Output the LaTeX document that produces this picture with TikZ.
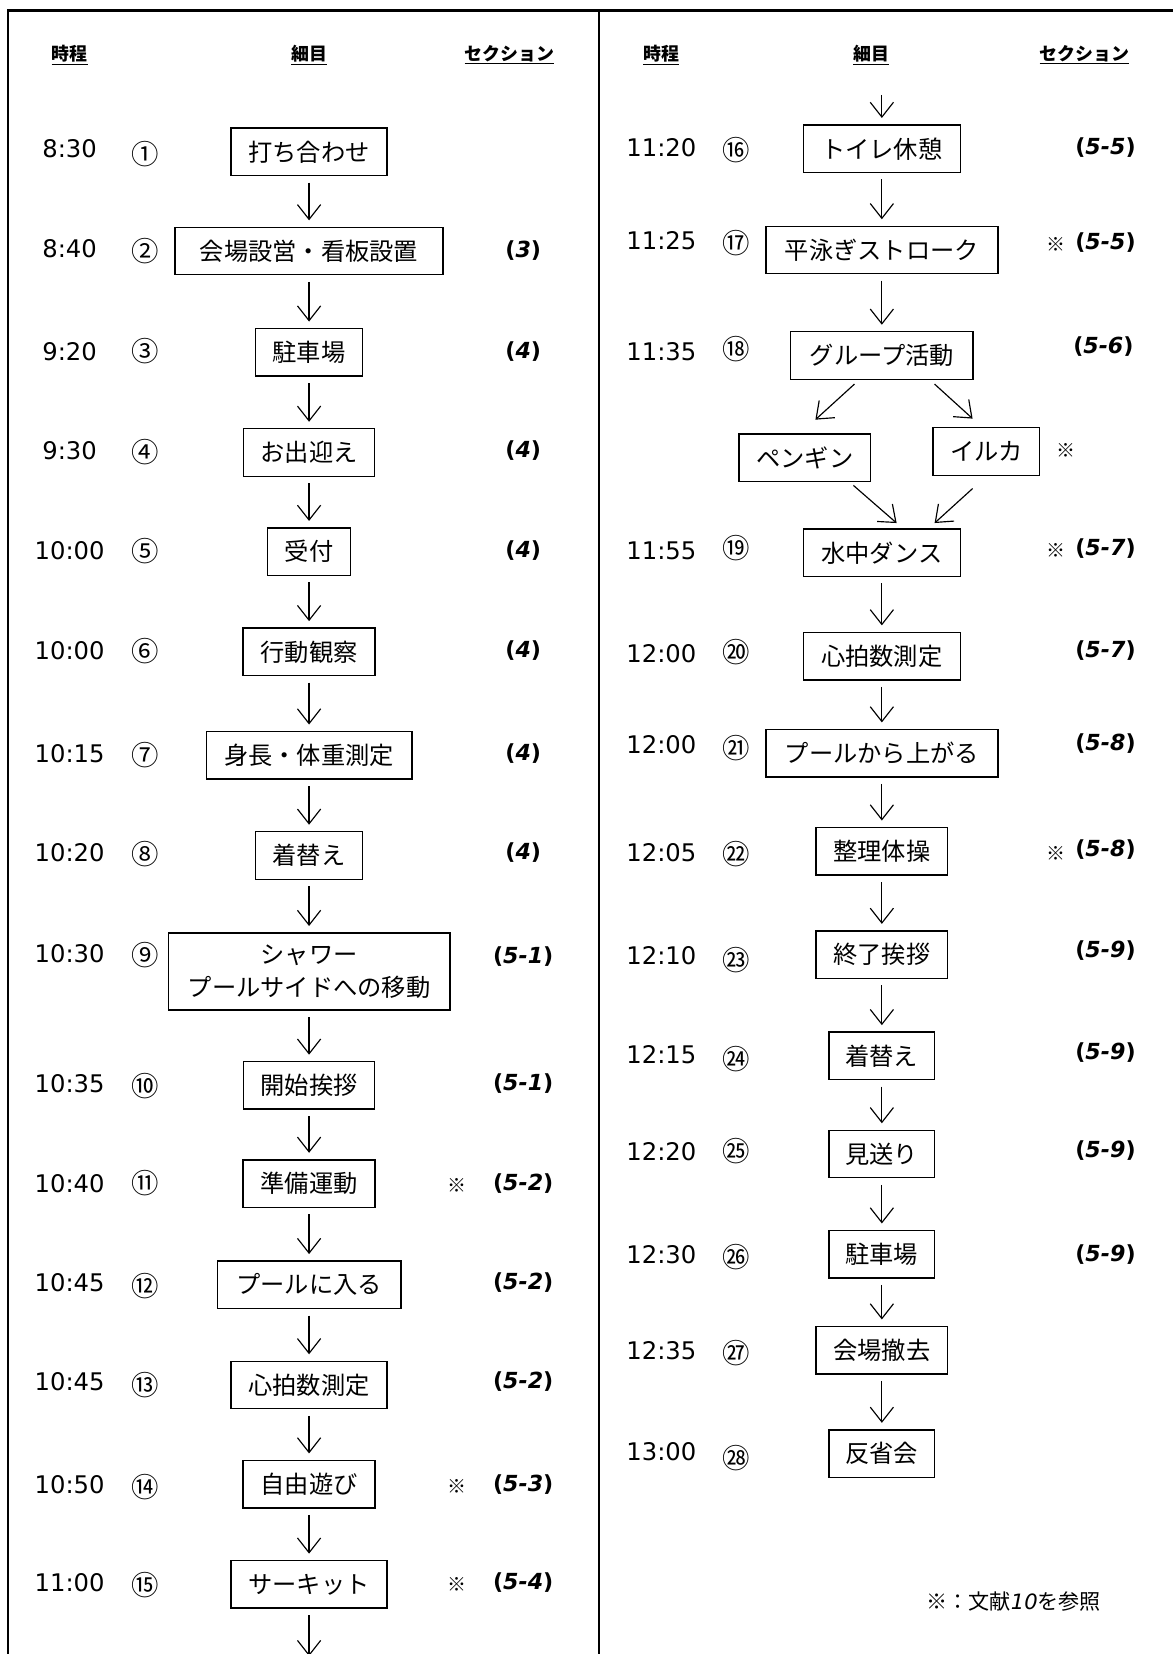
\documentclass[tikz,border=0pt]{standalone}
\usepackage{fontspec}
\setmainfont{DejaVu Sans}
\newfontfamily\jp{Noto Sans CJK JP}
\usetikzlibrary{arrows.meta}

\newcommand{\seclab}[1]{(\textit{#1})}

\tikzset{
  stepbox/.style={draw, line width=1.3pt, minimum height=45pt, inner xsep=6pt, font=\jp\fontsize{23}{31}\selectfont},
  clock/.style={font=\fontsize{23}{27}\selectfont},
  num/.style={font=\jp\fontsize{26}{30}\selectfont},
  seccol/.style={font=\bfseries\fontsize{21}{25}\selectfont},
  kome/.style={font=\jp\fontsize{18}{21}\selectfont},
  colhead/.style={font=\jp\bfseries\fontsize{17}{20}\selectfont},
  flowarrow/.style={-{Straight Barb[length=14pt,width=22pt]}, line width=1.1pt, shorten <=6pt, shorten >=6pt},
  brancharrow/.style={-{Straight Barb[length=14pt,width=22pt]}, line width=1.1pt}
}

\begin{document}
\begin{tikzpicture}[x=1pt, y=-1pt]

% Page and frame
\fill[white] (0,0) rectangle (1112,1568);
\useasboundingbox (0,0) rectangle (1112,1568);
\draw[line width=2pt] (8,1568) -- (8,10) -- (1112,10);
\draw[line width=2pt] (568,10) -- (568,1568);

% Column heads
\node[colhead] (h1) at (66,52) {\underline{時程}};
\node[colhead] (h2) at (293,52) {\underline{細目}};
\node[colhead] (h3) at (483,52) {\underline{セクション}};
\node[colhead] (h4) at (627,52) {\underline{時程}};
\node[colhead] (h5) at (826,52) {\underline{細目}};
\node[colhead] (h6) at (1028,52) {\underline{セクション}};

% Left column
\node[clock] (t1) at (66,141) {8:30};
\node[num] (n1) at (138,146) {①};
\node[stepbox, minimum width=148pt] (b1) at (293,144) {打ち合わせ};

\node[clock] (t2) at (66,236) {8:40};
\node[num] (n2) at (138,238) {②};
\node[stepbox, minimum width=254pt] (b2) at (293,238) {会場設営・看板設置};
\node[seccol] (s2) at (496,238) {\seclab{3}};

\node[clock] (t3) at (66,333) {9:20};
\node[num] (n3) at (138,333) {③};
\node[stepbox, minimum width=101pt] (b3) at (293,334) {駐車場};
\node[seccol] (s3) at (496,333) {\seclab{4}};

\node[clock] (t4) at (66,427) {9:30};
\node[num] (n4) at (138,429) {④};
\node[stepbox, minimum width=124pt] (b4) at (293,429) {お出迎え};
\node[seccol] (s4) at (496,427) {\seclab{4}};

\node[clock] (t5) at (66,522) {10:00};
\node[num] (n5) at (138,522) {⑤};
\node[stepbox, minimum width=79pt] (b5) at (293,523) {受付};
\node[seccol] (s5) at (496,522) {\seclab{4}};

\node[clock] (t6) at (66,617) {10:00};
\node[num] (n6) at (138,617) {⑥};
\node[stepbox, minimum width=125pt] (b6) at (293,618) {行動観察};
\node[seccol] (s6) at (496,617) {\seclab{4}};

\node[clock] (t7) at (66,714) {10:15};
\node[num] (n7) at (138,716) {⑦};
\node[stepbox, minimum width=195pt] (b7) at (293,716) {身長・体重測定};
\node[seccol] (s7) at (496,714) {\seclab{4}};

\node[clock] (t8) at (66,808) {10:20};
\node[num] (n8) at (138,810) {⑧};
\node[stepbox, minimum width=101pt] (b8) at (293,811) {着替え};
\node[seccol] (s8) at (496,808) {\seclab{4}};

\node[clock] (t9) at (66,904) {10:30};
\node[num] (n9) at (138,905) {⑨};
\node[stepbox, minimum width=267pt, minimum height=73pt, align=center] (b9) at (293,921) {シャワー\\プールサイドへの移動};
\node[seccol] (s9) at (496,907) {\seclab{5-1}};

\node[clock] (t10) at (66,1027) {10:35};
\node[num] (n10) at (138,1030) {⑩};
\node[stepbox, minimum width=124pt] (b10) at (293,1029) {開始挨拶};
\node[seccol] (s10) at (496,1027) {\seclab{5-1}};

\node[clock] (t11) at (66,1122) {10:40};
\node[num] (n11) at (138,1122) {⑪};
\node[stepbox, minimum width=125pt] (b11) at (293,1122) {準備運動};
\node[kome] (k11) at (433,1124) {※};
\node[seccol] (s11) at (496,1122) {\seclab{5-2}};

\node[clock] (t12) at (66,1216) {10:45};
\node[num] (n12) at (138,1219) {⑫};
\node[stepbox, minimum width=174pt] (b12) at (293,1218) {プールに入る};
\node[seccol] (s12) at (496,1216) {\seclab{5-2}};

\node[clock] (t13) at (66,1310) {10:45};
\node[num] (n13) at (138,1313) {⑬};
\node[stepbox, minimum width=148pt] (b13) at (293,1313) {心拍数測定};
\node[seccol] (s13) at (496,1310) {\seclab{5-2}};

\node[clock] (t14) at (66,1407) {10:50};
\node[num] (n14) at (138,1410) {⑭};
\node[stepbox, minimum width=125pt] (b14) at (293,1407) {自由遊び};
\node[kome] (k14) at (433,1409) {※};
\node[seccol] (s14) at (496,1407) {\seclab{5-3}};

\node[clock] (t15) at (66,1500) {11:00};
\node[num] (n15) at (138,1503) {⑮};
\node[stepbox, minimum width=148pt] (b15) at (293,1502) {サーキット};
\node[kome] (k15) at (433,1502) {※};
\node[seccol] (s15) at (496,1500) {\seclab{5-4}};

\coordinate (lbot) at (293,1570);

% Right column
\coordinate (rtop) at (836,84);

\node[clock] (t16) at (627,140) {11:20};
\node[num] (n16) at (698,142) {⑯};
\node[stepbox, minimum width=149pt] (b16) at (836,141) {トイレ休憩};
\node[seccol] (s16) at (1048,140) {\seclab{5-5}};

\node[clock] (t17) at (627,228) {11:25};
\node[num] (n17) at (698,230) {⑰};
\node[stepbox, minimum width=220pt] (b17) at (836,237) {平泳ぎストローク};
\node[kome] (k17) at (1001,232) {※};
\node[seccol] (s17) at (1048,230) {\seclab{5-5}};

\node[clock] (t18) at (627,333) {11:35};
\node[num] (n18) at (698,331) {⑱};
\node[stepbox, minimum width=173pt] (b18) at (836,337) {グループ活動};
\node[seccol] (s18) at (1046,329) {\seclab{5-6}};

\node[stepbox, minimum width=125pt] (pen) at (763,434) {ペンギン};
\node[stepbox, minimum width=101pt] (iru) at (935,428) {イルカ};
\node[kome] (kiru) at (1011,427) {※};

\node[clock] (t19) at (627,522) {11:55};
\node[num] (n19) at (698,520) {⑲};
\node[stepbox, minimum width=149pt] (b19) at (836,524) {水中ダンス};
\node[kome] (k19) at (1001,522) {※};
\node[seccol] (s19) at (1048,520) {\seclab{5-7}};

\node[clock] (t20) at (627,620) {12:00};
\node[num] (n20) at (698,618) {⑳};
\node[stepbox, minimum width=149pt] (b20) at (836,622) {心拍数測定};
\node[seccol] (s20) at (1048,617) {\seclab{5-7}};

\node[clock] (t21) at (627,706) {12:00};
\node[num] (n21) at (698,709) {㉑};
\node[stepbox, minimum width=220pt] (b21) at (836,714) {プールから上がる};
\node[seccol] (s21) at (1048,705) {\seclab{5-8}};

\node[clock] (t22) at (627,808) {12:05};
\node[num] (n22) at (698,810) {㉒};
\node[stepbox, minimum width=125pt] (b22) at (836,807) {整理体操};
\node[kome] (k22) at (1001,809) {※};
\node[seccol] (s22) at (1048,805) {\seclab{5-8}};

\node[clock] (t23) at (627,906) {12:10};
\node[num] (n23) at (698,910) {㉓};
\node[stepbox, minimum width=125pt] (b23) at (836,905) {終了挨拶};
\node[seccol] (s23) at (1048,901) {\seclab{5-9}};

\node[clock] (t24) at (627,1000) {12:15};
\node[num] (n24) at (698,1004) {㉔};
\node[stepbox, minimum width=100pt] (b24) at (836,1001) {着替え};
\node[seccol] (s24) at (1048,998) {\seclab{5-9}};

\node[clock] (t25) at (627,1092) {12:20};
\node[num] (n25) at (698,1091) {㉕};
\node[stepbox, minimum width=100pt] (b25) at (836,1094) {見送り};
\node[seccol] (s25) at (1048,1091) {\seclab{5-9}};

\node[clock] (t26) at (627,1189) {12:30};
\node[num] (n26) at (698,1192) {㉖};
\node[stepbox, minimum width=100pt] (b26) at (836,1189) {駐車場};
\node[seccol] (s26) at (1048,1189) {\seclab{5-9}};

\node[clock] (t27) at (627,1280) {12:35};
\node[num] (n27) at (698,1283) {㉗};
\node[stepbox, minimum width=125pt] (b27) at (836,1280) {会場撤去};

\node[clock] (t28) at (627,1376) {13:00};
\node[num] (n28) at (698,1382) {㉘};
\node[stepbox, minimum width=100pt] (b28) at (836,1378) {反省会};

% Note
\node[font=\jp\fontsize{20}{24}\selectfont] (note) at (961,1518) {※：文献{\normalfont\itshape 10}を参照};

% Arrows, left column
\draw[flowarrow] (b1) -- (b2);
\draw[flowarrow] (b2) -- (b3);
\draw[flowarrow] (b3) -- (b4);
\draw[flowarrow] (b4) -- (b5);
\draw[flowarrow] (b5) -- (b6);
\draw[flowarrow] (b6) -- (b7);
\draw[flowarrow] (b7) -- (b8);
\draw[flowarrow] (b8) -- (b9);
\draw[flowarrow] (b9) -- (b10);
\draw[flowarrow] (b10) -- (b11);
\draw[flowarrow] (b11) -- (b12);
\draw[flowarrow] (b12) -- (b13);
\draw[flowarrow] (b13) -- (b14);
\draw[flowarrow] (b14) -- (b15);
\draw[flowarrow, shorten >=0pt] (b15) -- (lbot);

% Arrows, right column
\draw[flowarrow] (rtop) -- (b16);
\draw[flowarrow] (b16) -- (b17);
\draw[flowarrow] (b17) -- (b18);
\draw[brancharrow] ([xshift=-26pt,yshift=-4pt]b18.south) -- ([xshift=10pt,yshift=13pt]pen.north);
\draw[brancharrow] ([xshift=50pt,yshift=-4pt]b18.south) -- ([xshift=-13pt,yshift=8pt]iru.north);
\draw[brancharrow] ([xshift=46pt,yshift=-3pt]pen.south) -- ([xshift=14pt,yshift=5pt]b19.north);
\draw[brancharrow] ([xshift=-13pt,yshift=-12pt]iru.south) -- ([xshift=50pt,yshift=5pt]b19.north);
\draw[flowarrow] (b19) -- (b20);
\draw[flowarrow] (b20) -- (b21);
\draw[flowarrow] (b21) -- (b22);
\draw[flowarrow] (b22) -- (b23);
\draw[flowarrow] (b23) -- (b24);
\draw[flowarrow] (b24) -- (b25);
\draw[flowarrow] (b25) -- (b26);
\draw[flowarrow] (b26) -- (b27);
\draw[flowarrow] (b27) -- (b28);

\end{tikzpicture}
\end{document}
